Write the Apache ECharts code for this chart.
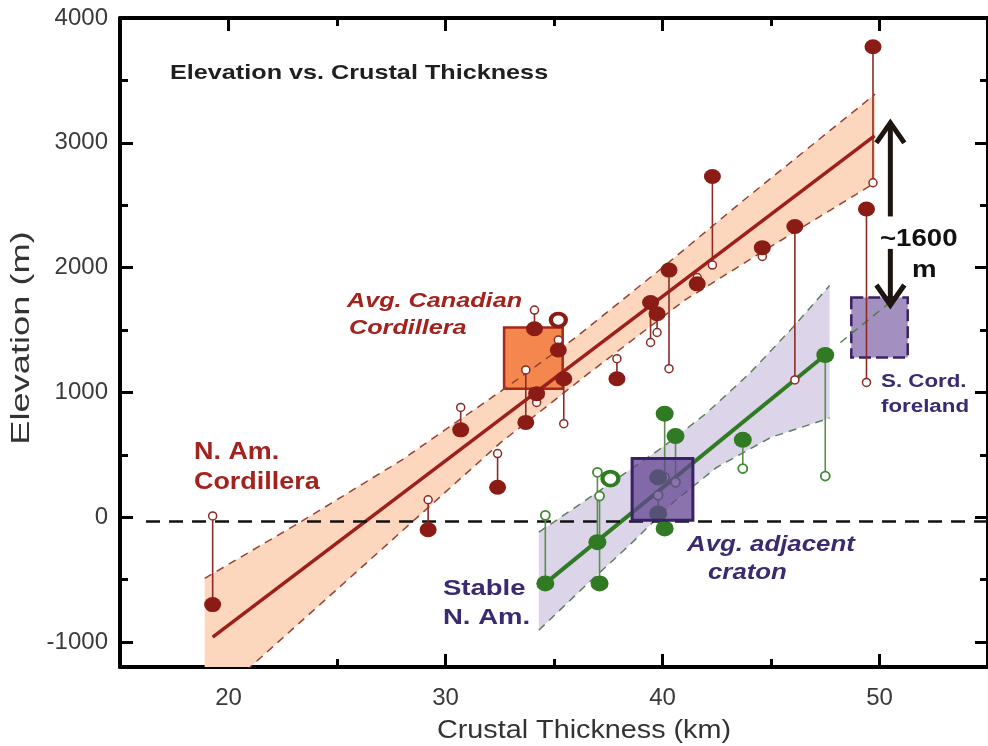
<!DOCTYPE html>
<html>
<head>
<meta charset="utf-8">
<script src="https://cdn.jsdelivr.net/npm/echarts@6/dist/echarts.min.js"></script>
<style>
  html, body { margin: 0; padding: 0; background: #fff; }
  #chart { width: 988px; height: 746px; }
</style>
</head>
<body>
<div id="chart"></div>
<script>
// N. Am. Cordillera stations: [crustal thickness (km), elevation (m), adjusted elevation (m)]
const cordillera = [
  [19.27, -700, 10],
  [29.2, -100, 140],
  [30.7, 700, 880],
  [32.4, 240, 510],
  [33.7, 760, 1180],
  [34.1, 1510, 1660],
  [34.2, 990, 920],
  [35.2, 1340, 1420],
  [35.45, 1110, 750],
  [37.9, 1110, 1270],
  [39.45, 1720, 1400],
  [39.75, 1630, 1480],
  [40.3, 1980, 1190],
  [41.6, 1870, 1920],
  [42.3, 2730, 2020],
  [44.6, 2160, 2090],
  [46.1, 2330, 1100],
  [49.4, 2470, 1080],
  [49.7, 3770, 2680]
];
const cordilleraRings = [[35.2, 1580]];

// Stable N. Am. stations: [crustal thickness (km), elevation (m), adjusted elevation (m)]
const stable = [
  [34.6, -530, 15],
  [37.0, -200, 360],
  [37.1, -530, 170],
  [39.8, 320, null],
  [39.8, 30, 176],
  [40.1, -90, null],
  [40.1, 830, 320],
  [40.6, 650, 280],
  [43.7, 620, 390],
  [47.5, 1300, 330]
];
const stableRings = [[37.6, 310]];

// Regression lines and confidence limits
const cordilleraFit = [[19.27, -960], [49.77, 3056]];
const cordilleraUpper = [[18.9, -490], [23.4, -30], [28, 460], [32.8, 1040], [36, 1440], [40, 2000], [43.6, 2520], [49.8, 3390]];
const cordilleraLower = [[18.9, -1530], [21, -1200], [26.5, -344], [32.5, 592], [36.5, 1140], [41, 1736], [45, 2170], [49.8, 2680]];

const stableFit = [[34.6, -530], [47.5, 1300]];
const stableFitExtension = [[48.2, 1400], [50.4, 1710]];
const stableUpper = [[34.3, -120], [37, 200], [40, 560], [42, 830], [44, 1150], [46, 1520], [47.7, 1856]];
const stableLower = [[34.3, -905], [36.5, -540], [38.5, -220], [40.5, 120], [42.5, 400], [45, 640], [47.7, 795]];

// Average boxes: [x0, y0, x1, y1]
const canadianBox = [32.7, 1030, 35.4, 1520];
const cratonBox = [38.6, -25, 41.4, 470];
const forelandBox = [48.7, 1280, 51.3, 1760];

// Sea-level reference and the ~1600 m offset arrows: [x, from, to]
const seaLevel = [[16.2, -35], [55, -35]];
const offsetArrows = [[50.5, 2410, 3160], [50.5, 2150, 1700]];

// Axis ticks
const xMajor = [20, 30, 40, 50];
const xMinor = [25, 35, 45];
const yMajor = [-1000, 0, 1000, 2000, 3000, 4000];
const yMinor = [-500, 500, 1500, 2500, 3500];

const RED = '#8b1c15';
const GREEN = '#2f7a22';
const PURPLE = '#3b2a70';
const FONT = '"Liberation Sans", Arial, Helvetica, sans-serif';

const chart = echarts.init(document.getElementById('chart'), null, { renderer: 'canvas' });

function bandSeries(upper, lower, fill) {
  const pts = upper.concat(lower.slice().reverse());
  return {
    type: 'custom', coordinateSystem: 'cartesian2d', clip: true, silent: true, z: 1,
    data: pts, encode: { x: 0, y: 1 },
    renderItem(params, api) {
      if (params.dataIndex !== 0) return null;
      return { type: 'polygon', shape: { points: pts.map(p => api.coord(p)) }, style: { fill: fill, stroke: 'none' } };
    }
  };
}

function boxSeries(box, style, z) {
  return {
    type: 'custom', coordinateSystem: 'cartesian2d', silent: true, z: z,
    data: [box], encode: { x: [0, 2], y: [1, 3] },
    renderItem(params, api) {
      const a = api.coord([api.value(0), api.value(3)]);
      const b = api.coord([api.value(2), api.value(1)]);
      return { type: 'rect', shape: { x: a[0], y: a[1], width: b[0] - a[0], height: b[1] - a[1] }, style: style };
    }
  };
}

function lineSeries(data, color, width, type, z) {
  return {
    type: 'line', data: data, symbol: 'none', silent: true, z: z, clip: true,
    lineStyle: { color: color, width: width, type: type }
  };
}

function stemSeries(rows, color) {
  return {
    type: 'custom', coordinateSystem: 'cartesian2d', silent: true, z: 4,
    data: rows.filter(r => r[2] != null), encode: { x: 0, y: [1, 2] },
    renderItem(params, api) {
      const p0 = api.coord([api.value(0), api.value(1)]);
      const p1 = api.coord([api.value(0), api.value(2)]);
      return { type: 'line', shape: { x1: p0[0], y1: p0[1], x2: p1[0], y2: p1[1] }, style: { stroke: color, lineWidth: 1.6 } };
    }
  };
}

function scatter(data, size, itemStyle, z) {
  return { type: 'scatter', data: data, symbol: 'circle', symbolSize: size, itemStyle: itemStyle, z: z, silent: true };
}

const arrowSeries = {
  type: 'custom', coordinateSystem: 'cartesian2d', silent: true, z: 8,
  data: offsetArrows, encode: { x: 0, y: [1, 2] },
  renderItem(params, api) {
    const p0 = api.coord([api.value(0), api.value(1)]);
    const p1 = api.coord([api.value(0), api.value(2)]);
    const dir = p1[1] < p0[1] ? 1 : -1;
    const hw = 14, hh = 20;
    const stroke = '#1d150f';
    return {
      type: 'group', children: [
        { type: 'line', shape: { x1: p0[0], y1: p0[1], x2: p1[0], y2: p1[1] + dir * 2 }, style: { stroke: stroke, lineWidth: 5 } },
        { type: 'polyline', shape: { points: [[p1[0] - hw, p1[1] + dir * hh], [p1[0], p1[1]], [p1[0] + hw, p1[1] + dir * hh]] },
          style: { stroke: stroke, lineWidth: 5, fill: 'none' } }
      ]
    };
  }
};

const plainNumber = v => String(v);

function majorAxis(pos, values, labelCfg, extra) {
  return Object.assign({
    type: 'value', position: pos, gridIndex: 0,
    axisLine: { show: true, onZero: false, lineStyle: { color: '#000', width: 4 } },
    axisTick: { show: true, inside: true, length: 13, customValues: values, lineStyle: { color: '#000', width: 3 } },
    axisLabel: labelCfg ? Object.assign({ show: true, customValues: values, fontSize: 24, color: '#3a3a3a', fontFamily: FONT, formatter: plainNumber }, labelCfg) : { show: false },
    splitLine: { show: false }
  }, extra);
}
function minorAxis(pos, values, extra) {
  return Object.assign({
    type: 'value', position: pos, gridIndex: 0,
    axisLine: { show: false, onZero: false },
    axisTick: { show: true, inside: true, length: 8, customValues: values, lineStyle: { color: '#000', width: 3 } },
    axisLabel: { show: false },
    splitLine: { show: false }
  }, extra);
}

const xRange = { min: 15, max: 55 };
const yRange = { min: -1200, max: 4000 };

function txt(text, x, y, font, fill, scaleX, align) {
  return {
    type: 'text', x: x, y: y, scaleX: scaleX || 1, silent: true, z: 20,
    style: { text: text, font: font, fill: fill, textAlign: align || 'left', textVerticalAlign: 'middle' }
  };
}

chart.setOption({
  animation: false,
  backgroundColor: '#fff',
  grid: { left: 120, right: -9, top: 18, bottom: 79, containLabel: false },
  xAxis: [
    majorAxis('bottom', xMajor, { margin: 19 }, xRange),
    minorAxis('bottom', xMinor, xRange),
    majorAxis('top', xMajor, null, xRange),
    minorAxis('top', xMinor, xRange)
  ],
  yAxis: [
    majorAxis('left', yMajor, { margin: 12 }, yRange),
    minorAxis('left', yMinor, yRange),
    majorAxis('right', yMajor, null, yRange),
    minorAxis('right', yMinor, yRange)
  ],
  series: [
    bandSeries(cordilleraUpper, cordilleraLower, '#fcd6bd'),
    bandSeries(stableUpper, stableLower, '#dcd4e8'),
    boxSeries(canadianBox, { fill: '#f4874d', stroke: '#a5281a', lineWidth: 2.5 }, 2),
    boxSeries(forelandBox, { fill: '#a48fc1', stroke: '#3a2167', lineWidth: 2.5, lineDash: [12, 5] }, 2),
    lineSeries(cordilleraUpper, '#9a4232', 1.5, [8, 6], 3),
    lineSeries(cordilleraLower, '#9a4232', 1.5, [8, 6], 3),
    lineSeries(stableUpper, '#5f7f5c', 1.5, [8, 6], 3),
    lineSeries(stableLower, '#5f7f5c', 1.5, [8, 6], 3),
    lineSeries(cordilleraFit, '#9e1f1a', 3.5, 'solid', 3),
    lineSeries(stableFit, GREEN, 4, 'solid', 3),
    lineSeries(stableFitExtension, '#4f7f45', 1.5, [8, 6], 3),
    lineSeries(seaLevel, '#111', 2.5, [14, 9], 3),
    stemSeries(cordillera, '#8d2a25'),
    stemSeries(stable, '#5a8f4f'),
    scatter(cordillera.filter(r => r[2] != null).map(r => [r[0], r[2]]), 8, { color: '#fff', borderColor: '#8b2a22', borderWidth: 1.5, opacity: 1 }, 5),
    scatter(stable.filter(r => r[2] != null).map(r => [r[0], r[2]]), 9, { color: '#fff', borderColor: '#3f8a30', borderWidth: 1.8, opacity: 1 }, 5),
    scatter(cordillera.map(r => [r[0], r[1]]), [17, 15], { color: RED, opacity: 1 }, 6),
    scatter(stable.map(r => [r[0], r[1]]), [18, 16], { color: GREEN, opacity: 1 }, 6),
    scatter(cordilleraRings, [15, 13], { color: '#fff', borderColor: RED, borderWidth: 4, opacity: 1 }, 6),
    scatter(stableRings, [16, 14], { color: '#fff', borderColor: GREEN, borderWidth: 4, opacity: 1 }, 6),
    boxSeries(cratonBox, { fill: 'rgba(100,70,145,0.75)', stroke: '#3a2167', lineWidth: 3 }, 7),
    arrowSeries
  ],
  graphic: [
    txt('Elevation vs. Crustal Thickness', 170, 73, 'bold 21px ' + FONT, '#1f1f1f', 1.2),
    txt('Avg. Canadian', 347, 301, 'italic bold 21px ' + FONT, '#a3221d', 1.2),
    txt('Cordillera', 349, 328, 'italic bold 21px ' + FONT, '#a3221d', 1.2),
    txt('N. Am.', 194, 453, 'bold 23px ' + FONT, '#a3221d', 1.17),
    txt('Cordillera', 194, 483, 'bold 23px ' + FONT, '#a3221d', 1.17),
    txt('Stable', 443, 589, 'bold 22px ' + FONT, PURPLE, 1.25),
    txt('N. Am.', 443, 618, 'bold 22px ' + FONT, PURPLE, 1.25),
    txt('Avg. adjacent', 687, 545, 'italic bold 21.5px ' + FONT, PURPLE, 1.2),
    txt('craton', 708, 573, 'italic bold 21.5px ' + FONT, PURPLE, 1.2),
    txt('S. Cord.', 881, 382, 'bold 18px ' + FONT, PURPLE, 1.24),
    txt('foreland', 881, 407, 'bold 18px ' + FONT, PURPLE, 1.24),
    txt('~1600', 880, 239, 'bold 24px ' + FONT, '#111', 1.15),
    txt('m', 912, 270, 'bold 24px ' + FONT, '#111', 1.15),
    txt('Crustal Thickness (km)', 584, 731, '25px ' + FONT, '#333', 1.15, 'center'),
    {
      type: 'text', x: 22, y: 338, rotation: Math.PI / 2, scaleX: 1.45, silent: true, z: 20,
      style: { text: 'Elevation (m)', font: '25px ' + FONT, fill: '#333', textAlign: 'center', textVerticalAlign: 'middle' }
    }
  ]
});
</script>
</body>
</html>
